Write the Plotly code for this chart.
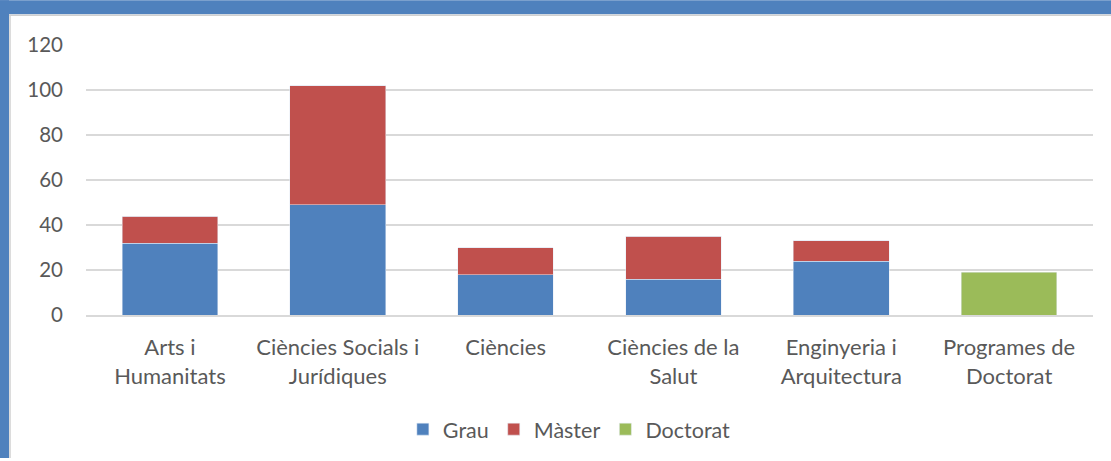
import plotly.graph_objects as go

categories = ["Arts i<br>Humanitats", "Ciències Socials i<br>Jurídiques", "Ciències",
              "Ciències de la<br>Salut", "Enginyeria i<br>Arquitectura", "Programes de<br>Doctorat"]
grau = [32, 49, 18, 16, 24, 0]
master = [12, 53, 12, 19, 9, 0]
doctorat = [0, 0, 0, 0, 0, 19]
y_ticks = [0, 20, 40, 60, 80, 100, 120]

W, H = 1111, 461
ML, MR, MT, MB = 86, 18, 45, 144
PW, PH = W - ML - MR, H - MT - MB

def px(x):
    return (x - ML) / PW

def py(y):
    return (H - MB - y) / PH

FONT = "Lato"
TXT = "#595959"

fig = go.Figure()
fig.add_bar(name="Grau", x=categories, y=grau, marker_color="#4F81BD")
fig.add_bar(name="Màster", x=categories, y=master, marker_color="#C0504D")
fig.add_bar(name="Doctorat", x=categories, y=doctorat, marker_color="#9BBB59")

fig.update_layout(
    barmode="stack",
    bargap=0.43,
    width=W, height=H,
    margin=dict(l=ML, r=MR, t=MT, b=MB, pad=0),
    paper_bgcolor="white", plot_bgcolor="white",
    font=dict(family=FONT, size=20, color=TXT),
    showlegend=True,
    legend=dict(orientation="h", x=0.48, xanchor="center", y=py(432), yanchor="middle",
                font=dict(family=FONT, size=21.5, color=TXT), itemwidth=30,
                traceorder="normal"),
    xaxis=dict(showgrid=False, showline=True, linecolor="#D9D9D9", linewidth=1.5,
               ticks="", ticklabelstandoff=12,
               tickfont=dict(family=FONT, size=22, color=TXT)),
    yaxis=dict(range=[0, 120], tickvals=y_ticks, showgrid=True, gridcolor="#D9D9D9",
               gridwidth=1.5, zeroline=False, showline=False, ticks="",
               ticklabelstandoff=22,
               tickfont=dict(family=FONT, size=20.5, color=TXT)),
    shapes=[
        dict(type="rect", xref="paper", yref="paper", x0=px(0), x1=px(W), y0=py(0), y1=py(14),
             fillcolor="#4F81BD", line_width=0, layer="above"),
        dict(type="rect", xref="paper", yref="paper", x0=px(0), x1=px(9), y0=py(0), y1=py(H),
             fillcolor="#4F81BD", line_width=0, layer="above"),
        dict(type="line", xref="paper", yref="paper", x0=px(9), x1=px(W), y0=py(15), y1=py(15),
             line=dict(color="#D0D0D0", width=1.5), layer="above"),
        dict(type="line", xref="paper", yref="paper", x0=px(10), x1=px(10), y0=py(15), y1=py(H),
             line=dict(color="#D0D0D0", width=1.5), layer="above"),
    ],
)

fig.write_html("out.html", config={"displayModeBar": False},
               post_script="document.body.style.margin='0';document.body.style.overflow='hidden';")
